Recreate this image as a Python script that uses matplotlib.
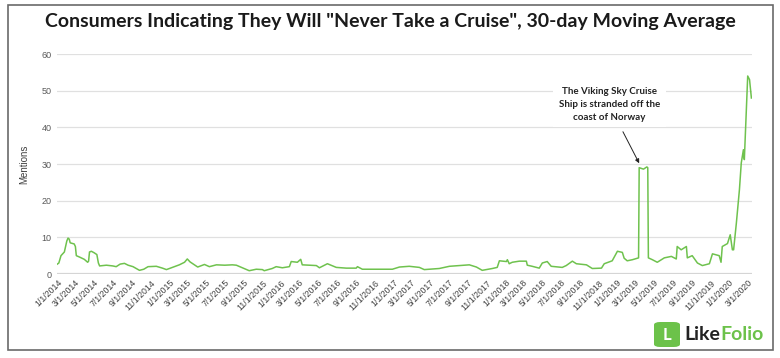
import matplotlib
matplotlib.use("Agg")
import matplotlib.pyplot as plt
from matplotlib.patches import Rectangle, FancyBboxPatch
import pandas as pd

# ---------------- data ----------------
dates = [
    "2014-01-01", "2014-01-06", "2014-01-13", "2014-01-24", "2014-02-01", "2014-02-05",
    "2014-02-09", "2014-02-12", "2014-02-25", "2014-03-01", "2014-03-04", "2014-03-15",
    "2014-03-30", "2014-04-10", "2014-04-13", "2014-04-16", "2014-04-22", "2014-05-01",
    "2014-05-10", "2014-05-15", "2014-05-19", "2014-06-10", "2014-07-01", "2014-07-12",
    "2014-07-25", "2014-08-08", "2014-08-20", "2014-09-05", "2014-09-26", "2014-10-10",
    "2014-10-24", "2014-11-20", "2014-12-10", "2014-12-23", "2015-01-15", "2015-02-03",
    "2015-02-20", "2015-03-01", "2015-03-10", "2015-04-04", "2015-04-26", "2015-05-12",
    "2015-06-04", "2015-07-01", "2015-07-26", "2015-08-08", "2015-08-25", "2015-09-19",
    "2015-10-12", "2015-11-01", "2015-11-07", "2015-12-03", "2015-12-16", "2016-01-05",
    "2016-01-28", "2016-02-03", "2016-02-23", "2016-03-05", "2016-03-10", "2016-04-25",
    "2016-05-05", "2016-05-31", "2016-06-29", "2016-08-01", "2016-09-02", "2016-09-06",
    "2016-09-22", "2016-11-01", "2016-12-29", "2017-01-21", "2017-02-22", "2017-03-27",
    "2017-04-12", "2017-05-31", "2017-07-03", "2017-09-06", "2017-09-29", "2017-10-18",
    "2017-11-20", "2017-12-06", "2017-12-13", "2018-01-05", "2018-01-08", "2018-01-14",
    "2018-01-24", "2018-02-16", "2018-03-11", "2018-03-14", "2018-03-30", "2018-04-22",
    "2018-05-02", "2018-05-18", "2018-05-31", "2018-07-06", "2018-07-19", "2018-08-08",
    "2018-08-21", "2018-09-23", "2018-10-12", "2018-11-11", "2018-11-20", "2018-12-16",
    "2019-01-02", "2019-01-18", "2019-01-24", "2019-02-03", "2019-02-20", "2019-03-12",
    "2019-03-14", "2019-03-28", "2019-04-08", "2019-04-11", "2019-04-13", "2019-04-26",
    "2019-05-12", "2019-06-04", "2019-06-27", "2019-07-13", "2019-07-16", "2019-07-29",
    "2019-08-15", "2019-08-18", "2019-09-03", "2019-09-20", "2019-10-06", "2019-10-29",
    "2019-11-08", "2019-11-30", "2019-12-06", "2019-12-10", "2019-12-27", "2020-01-05",
    "2020-01-12", "2020-01-16", "2020-01-25", "2020-02-04", "2020-02-10", "2020-02-17",
    "2020-02-20", "2020-02-27", "2020-03-02", "2020-03-08", "2020-03-14",
]
mentions = [
    2.7, 3.0, 5.0, 6.0, 9.0, 9.8,
    9.5, 8.5, 8.2, 7.5, 5.0, 4.6,
    4.0, 3.2, 3.5, 6.0, 6.2, 5.8,
    5.3, 3.0, 2.2, 2.4, 2.2, 2.0,
    2.7, 2.9, 2.4, 2.0, 1.0, 1.3,
    2.0, 2.1, 1.6, 1.2, 1.9, 2.5,
    3.2, 4.1, 3.3, 1.9, 2.6, 2.0,
    2.5, 2.4, 2.5, 2.4, 1.8, 0.9,
    1.3, 1.2, 0.9, 1.5, 2.0, 1.7,
    2.0, 3.4, 3.2, 4.0, 2.5, 2.3,
    1.7, 2.8, 1.8, 1.6, 1.6, 2.0,
    1.3, 1.3, 1.3, 1.9, 2.1, 1.8,
    1.2, 1.5, 2.1, 2.5, 1.9, 1.0,
    1.5, 1.8, 3.6, 3.4, 3.9, 2.8,
    3.2, 3.5, 3.5, 2.4, 2.1, 1.6,
    3.0, 3.4, 2.1, 1.8, 2.3, 3.5,
    2.8, 2.5, 1.5, 1.6, 2.8, 3.6,
    6.2, 5.9, 4.3, 3.6, 3.9, 4.4,
    29.0, 28.6, 29.2, 29.0, 4.4, 3.9,
    3.2, 4.4, 4.8, 4.1, 7.5, 6.6,
    7.5, 4.4, 5.0, 3.0, 2.3, 2.8,
    5.5, 5.0, 3.2, 7.5, 8.3, 10.7,
    6.6, 6.6, 13.9, 23.0, 30.3, 33.9,
    31.2, 45.7, 54.0, 53.0, 48.0,
]
tick_dates = [
    "2014-01-01", "2014-03-01", "2014-05-01", "2014-07-01", "2014-09-01", "2014-11-01",
    "2015-01-01", "2015-03-01", "2015-05-01", "2015-07-01", "2015-09-01", "2015-11-01",
    "2016-01-01", "2016-03-01", "2016-05-01", "2016-07-01", "2016-09-01", "2016-11-01",
    "2017-01-01", "2017-03-01", "2017-05-01", "2017-07-01", "2017-09-01", "2017-11-01",
    "2018-01-01", "2018-03-01", "2018-05-01", "2018-07-01", "2018-09-01", "2018-11-01",
    "2019-01-01", "2019-03-01", "2019-05-01", "2019-07-01", "2019-09-01", "2019-11-01",
    "2020-01-01", "2020-03-01",
]
tick_labels = [
    "1/1/2014", "3/1/2014", "5/1/2014", "7/1/2014", "9/1/2014", "11/1/2014",
    "1/1/2015", "3/1/2015", "5/1/2015", "7/1/2015", "9/1/2015", "11/1/2015",
    "1/1/2016", "3/1/2016", "5/1/2016", "7/1/2016", "9/1/2016", "11/1/2016",
    "1/1/2017", "3/1/2017", "5/1/2017", "7/1/2017", "9/1/2017", "11/1/2017",
    "1/1/2018", "3/1/2018", "5/1/2018", "7/1/2018", "9/1/2018", "11/1/2018",
    "1/1/2019", "3/1/2019", "5/1/2019", "7/1/2019", "9/1/2019", "11/1/2019",
    "1/1/2020", "3/1/2020",
]
y_ticks = [0, 10, 20, 30, 40, 50, 60]
title = 'Consumers Indicating They Will "Never Take a Cruise", 30-day Moving Average'
annotation = "The Viking Sky Cruise\nShip is stranded off the\ncoast of Norway"

# ---------------- figure ----------------
W, H = 780, 358
fig = plt.figure(figsize=(W / 100, H / 100), dpi=100)
fig.patch.set_facecolor("white")

def fx(px):
    return px / W

def fy(py):
    return 1 - py / H

ax = fig.add_axes([fx(57), fy(274), fx(752) - fx(57), fy(54) - fy(274)])
x = pd.to_datetime(dates)
ax.plot(x, mentions, color="#6fc24e", lw=1.1, zorder=3)

ax.set_ylim(0, 60)
ax.set_xlim(pd.Timestamp("2013-12-31"), pd.Timestamp("2020-03-16"))
ax.set_yticks(y_ticks)
ax.set_yticklabels([str(v) for v in y_ticks], fontsize=6.5, color="#595959",
                   family="Liberation Sans")
ax.set_xticks(pd.to_datetime(tick_dates))
ax.set_xticklabels(tick_labels, rotation=45, ha="right", rotation_mode="anchor",
                   fontsize=6.3, color="#404040", family="Liberation Sans")
ax.tick_params(axis="both", length=0, pad=4)
ax.tick_params(axis="x", pad=3)
for s in ax.spines.values():
    s.set_visible(False)
ax.grid(axis="y", color="#e0e0e0", lw=0.9, zorder=0)
ax.axhline(0, color="#d4d4d4", lw=1.6, zorder=1)
ax.set_ylabel("Mentions", fontsize=7, color="#404040", family="Liberation Sans",
              labelpad=9)

# annotation
ax.text(pd.Timestamp("2018-12-06"), 46.3, annotation, ha="center", va="center",
        fontsize=7, fontweight="bold", color="#222222", family="Lato",
        linespacing=1.55, zorder=5,
        bbox=dict(boxstyle="square,pad=0.6", fc="white", ec="none"))
ax.annotate("", xy=(pd.Timestamp("2019-03-14"), 30.2),
            xytext=(pd.Timestamp("2019-01-20"), 38.8),
            arrowprops=dict(arrowstyle="-|>", color="#222222", lw=0.7,
                            mutation_scale=6, shrinkA=0, shrinkB=0), zorder=6)

# title
fig.text(fx(390), fy(22), title, ha="center", va="center", fontsize=14,
         fontweight="bold", color="#1a1a1a", family="Lato")

# border
fig.patches.append(Rectangle((fx(8), fy(350)), fx(773) - fx(8), fy(5) - fy(350),
                             transform=fig.transFigure, fill=False,
                             ec="#6a6a6a", lw=1.2))

# logo
fig.patches.append(FancyBboxPatch((fx(654), fy(347)), fx(680) - fx(654), fy(322) - fy(347),
                                  boxstyle="round,pad=0,rounding_size=0.008",
                                  transform=fig.transFigure, fc="#6cc24a", ec="none"))
fig.text(fx(667), fy(334.5), "L", ha="center", va="center", fontsize=12,
         fontweight="bold", color="white", family="Lato")
t1 = fig.text(fx(684), fy(335), "Like", ha="left", va="center", fontsize=14,
              fontweight="bold", color="#222222", family="Lato")
fig.canvas.draw()
bb = t1.get_window_extent()
fig.text(bb.x1 / W, fy(335), "Folio", ha="left", va="center", fontsize=14,
         fontweight="bold", color="#6cc24a", family="Lato")

fig.savefig("out.png", dpi=100, facecolor="white")
